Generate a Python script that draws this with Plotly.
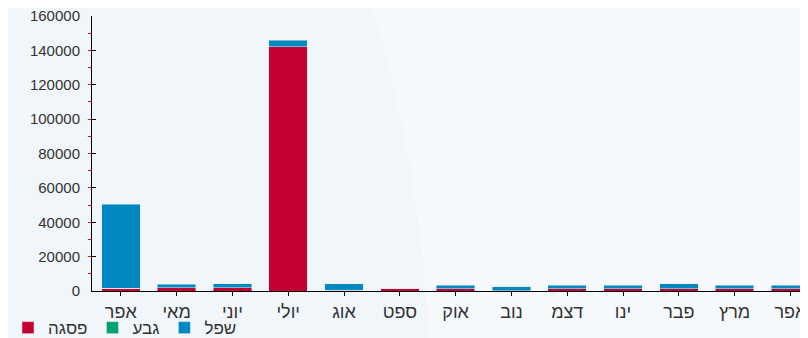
import plotly.graph_objects as go

months = ["אפר", "מאי", "יוני", "יולי", "אוג", "ספט", "אוק", "נוב", "דצמ", "ינו", "פבר", "מרץ", "אפר"]
peak = [1500, 1800, 1800, 142000, 300, 1700, 1200, 100, 1200, 1200, 1200, 1200, 1200]
mid = [0, 0, 0, 0, 0, 0, 0, 0, 0, 0, 0, 0, 0]
low = [49000, 2000, 2300, 3900, 3900, 0, 2100, 2300, 2100, 2100, 3100, 2100, 2100]

positions = list(range(len(months)))

fig = go.Figure()
fig.add_trace(go.Bar(x=positions, y=peak, name="פסגה", marker_color="#c40030"))
fig.add_trace(go.Bar(x=positions, y=mid, name="גבע", marker_color="#00a36f"))
fig.add_trace(go.Bar(x=positions, y=low, name="שפל", marker_color="#0088c0"))

# the page body has an 8px margin, so the figure is 800x330 inside the window
fig.update_layout(
    width=800,
    height=330,
    barmode="stack",
    bargap=0.31,
    margin=dict(l=84, r=0, t=8, b=47),
    paper_bgcolor="#f6f9fb",
    plot_bgcolor="rgba(0,0,0,0)",
    font=dict(family="Liberation Sans", size=15, color="#333333"),
    showlegend=True,
    legend=dict(
        orientation="h",
        yref="container",
        x=-0.131,
        xanchor="left",
        y=0.03,
        yanchor="middle",
        font=dict(size=17),
        itemwidth=30,
        traceorder="normal",
        bgcolor="rgba(0,0,0,0)",
    ),
)

# slightly darker background arc on the left half
fig.add_shape(
    type="circle",
    xref="paper",
    yref="paper",
    xsizemode="pixel",
    ysizemode="pixel",
    xanchor=0,
    yanchor=0,
    x0=-2388,
    x1=338,
    y0=-1472,
    y1=1254,
    fillcolor="#f0f6f9",
    line_width=0,
    layer="below",
)

fig.update_xaxes(
    range=[-0.516, 12.315],
    tickvals=positions,
    ticktext=months,
    showline=True,
    linecolor="black",
    linewidth=1,
    ticks="outside",
    ticklen=4,
    tickcolor="black",
    showgrid=False,
    zeroline=False,
    automargin=False,
    ticklabeloverflow="allow",
    tickfont=dict(size=18),
)
fig.update_yaxes(
    range=[0, 160000],
    tickvals=list(range(0, 160001, 20000)),
    tickformat="d",
    showline=True,
    linecolor="black",
    linewidth=1,
    ticks="inside",
    ticklen=4,
    tickcolor="black",
    minor=dict(ticks="outside", ticklen=3, tickcolor="red", dtick=10000),
    showgrid=False,
    zeroline=False,
    automargin=False,
    ticklabeloverflow="allow",
    ticklabelstandoff=8,
)

fig.write_html("out.html")
